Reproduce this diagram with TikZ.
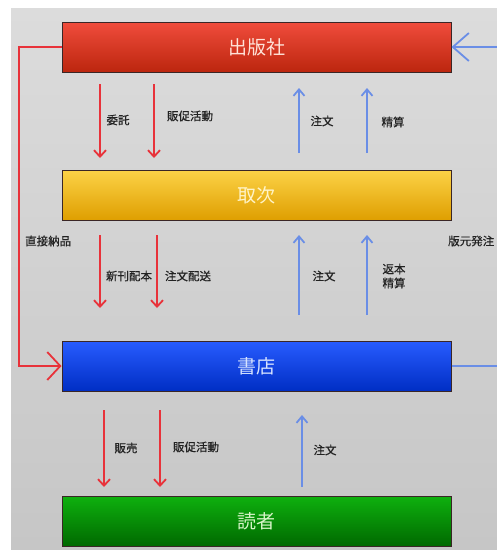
\documentclass[tikz,border=0pt]{standalone}
\usepackage{fontspec}
\setmainfont{Noto Sans CJK JP}
\newfontfamily\lblfont[FakeBold=0.6]{Noto Sans CJK JP}
\usetikzlibrary{arrows.meta}
\definecolor{bgtop}{HTML}{DCDCDC}
\definecolor{bgbot}{HTML}{C6C6C6}
\definecolor{boxline}{HTML}{3A2626}
\definecolor{arrred}{HTML}{E8323A}
\definecolor{arrblue}{HTML}{6A8EE6}
\definecolor{lbltext}{HTML}{222222}
\begin{document}
\begin{tikzpicture}[x=1pt,y=-1pt,
  box/.style={draw=boxline, line width=1pt, minimum width=389pt, minimum height=50pt,
    inner sep=0pt, font=\fontsize{19}{19}\selectfont},
  lbl/.style={font=\lblfont\fontsize{11.5}{14}\selectfont, text=lbltext, align=left, inner sep=0pt},
  redarr/.style={draw=arrred, line width=1.5pt, -{Straight Barb[length=6.5pt,width=12pt,line width=1.8pt]}},
  bluearr/.style={draw=arrblue, line width=1.5pt, -{Straight Barb[length=6.5pt,width=11pt,line width=1.8pt]}},
  bigred/.style={draw=arrred, line width=1.5pt, -{Straight Barb[length=13pt,width=28pt,line width=1.8pt]}},
  bigblue/.style={draw=arrblue, line width=1.5pt, -{Straight Barb[length=16pt,width=28pt,line width=1.8pt]}},
]
\useasboundingbox (0,0) rectangle (497,550);
\clip (0,0) rectangle (497,550);
\fill[white] (0,0) rectangle (497,550);
\shade[top color=bgtop, bottom color=bgbot] (11,8) rectangle (497,549);

% boxes
\node[box, top color={rgb,255:red,240;green,76;blue,60}, bottom color={rgb,255:red,188;green,38;blue,14},
  text={rgb,255:red,255;green,226;blue,216}] (pub) at (256.5,47) {出版社};
\node[box, top color={rgb,255:red,252;green,210;blue,70}, bottom color={rgb,255:red,222;green,158;blue,0},
  text={rgb,255:red,255;green,244;blue,200}] (tor) at (256.5,195.5) {取次};
\node[box, top color={rgb,255:red,40;green,92;blue,255}, bottom color={rgb,255:red,0;green,46;blue,196},
  text={rgb,255:red,215;green,228;blue,255}] (shop) at (256.5,366) {書店};
\node[box, top color={rgb,255:red,14;green,176;blue,14}, bottom color={rgb,255:red,0;green,104;blue,0},
  text={rgb,255:red,215;green,245;blue,200}] (rdr) at (256.5,521.5) {読者};

% coordinates for arrow ends
\coordinate (r1as) at (100,84);  \coordinate (r1ae) at (100,158);
\coordinate (r1bs) at (154,84);  \coordinate (r1be) at (154,158);
\coordinate (b1as) at (299,153); \coordinate (b1ae) at (299,88);
\coordinate (b1bs) at (367,153); \coordinate (b1be) at (367,88);
\coordinate (r2as) at (100,235); \coordinate (r2ae) at (100,308);
\coordinate (r2bs) at (157,235); \coordinate (r2be) at (157,308);
\coordinate (b2as) at (299,315); \coordinate (b2ae) at (299,235);
\coordinate (b2bs) at (367,315); \coordinate (b2be) at (367,235);
\coordinate (r3as) at (104,410); \coordinate (r3ae) at (104,487);
\coordinate (r3bs) at (160,410); \coordinate (r3be) at (160,487);
\coordinate (b3as) at (302,487); \coordinate (b3ae) at (302,415);
\coordinate (lft) at (19,200);
\coordinate (rgt) at (512,200);

\draw[redarr] (r1as) -- (r1ae);
\draw[redarr] (r1bs) -- (r1be);
\draw[bluearr] (b1as) -- (b1ae);
\draw[bluearr] (b1bs) -- (b1be);
\draw[redarr] (r2as) -- (r2ae);
\draw[redarr] (r2bs) -- (r2be);
\draw[bluearr] (b2as) -- (b2ae);
\draw[bluearr] (b2bs) -- (b2be);
\draw[redarr] (r3as) -- (r3ae);
\draw[redarr] (r3bs) -- (r3be);
\draw[bluearr] (b3as) -- (b3ae);

\draw[bigred] (pub.west) -| (lft) |- (shop.west);
\draw[bigblue] (shop.east) -| (rgt) |- (pub.east);

% labels
\node[lbl] (l1) at (118,120) {委託};
\node[lbl] (l2) at (190,116) {販促活動};
\node[lbl] (l3) at (322,121) {注文};
\node[lbl] (l4) at (393,122) {精算};
\node[lbl, anchor=west] (l5) at (25,241) {直接納品};
\node[lbl] (l6) at (129,276) {新刊配本};
\node[lbl] (l7) at (188,276) {注文配送};
\node[lbl] (l8) at (324,276) {注文};
\node[lbl] (l9) at (394,276) {返本\\精算};
\node[lbl, anchor=west] (l10) at (448,241) {版元発注};
\node[lbl] (l11) at (126,448) {販売};
\node[lbl] (l12) at (196,447) {販促活動};
\node[lbl] (l13) at (325,450) {注文};
\end{tikzpicture}
\end{document}
